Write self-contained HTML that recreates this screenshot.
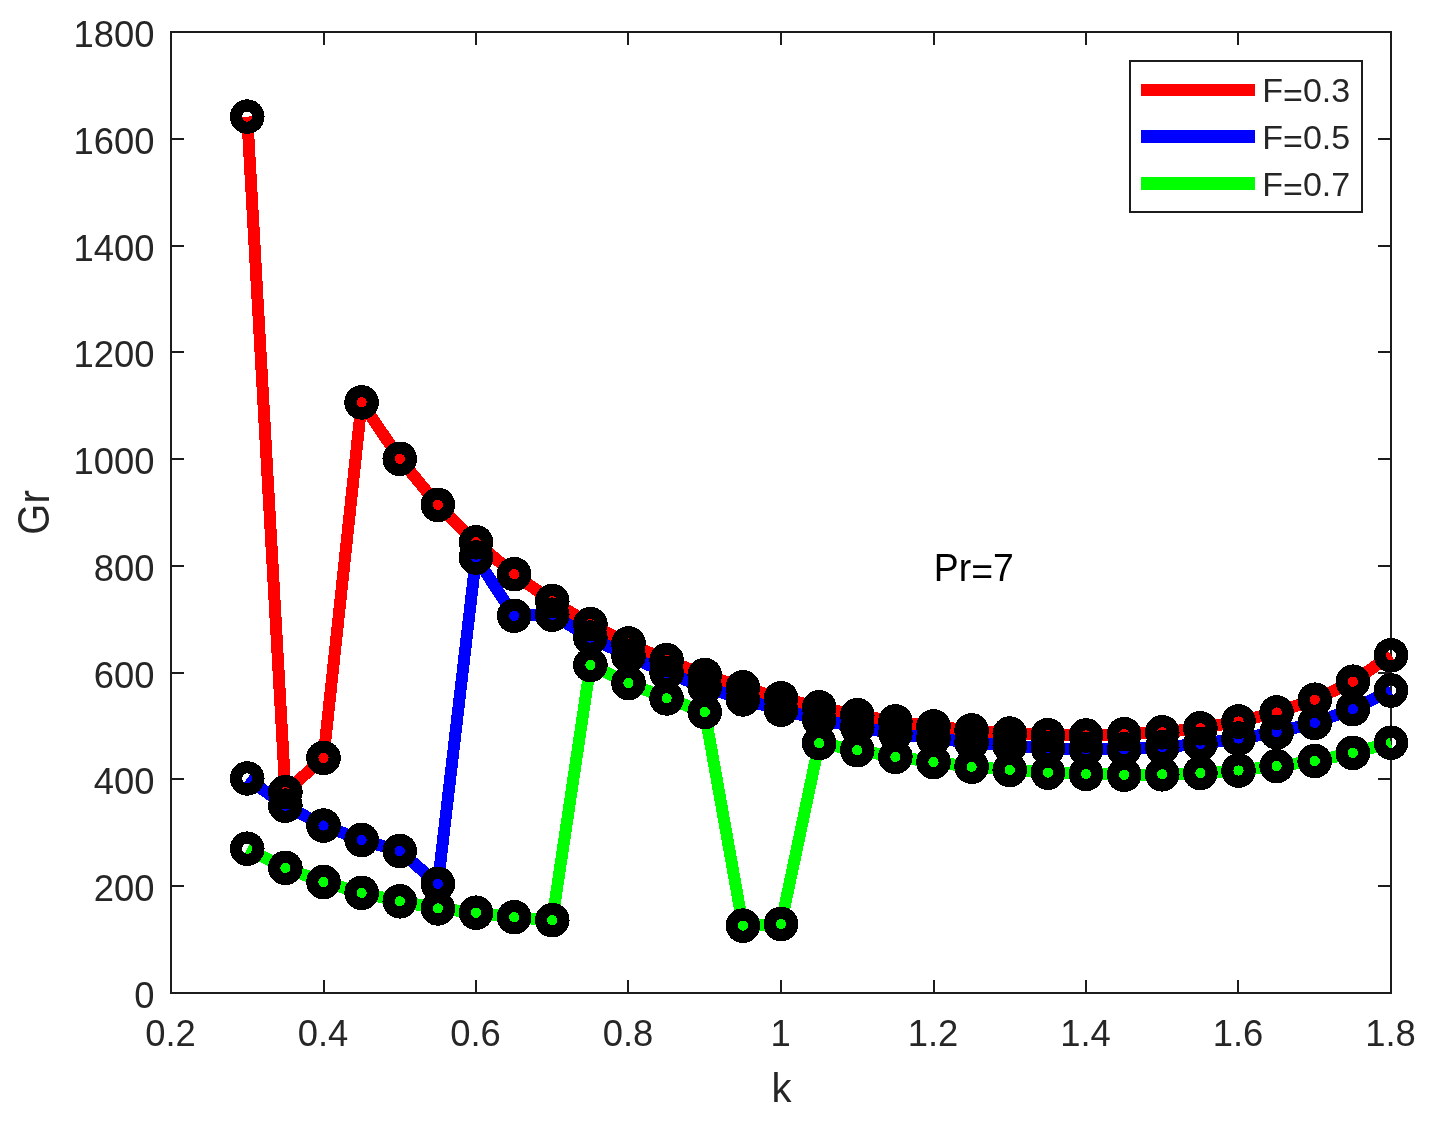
<!DOCTYPE html>
<html lang="en"><head><meta charset="utf-8"><title>Gr vs k</title>
<style>html,body{margin:0;padding:0;background:#fff}svg{display:block}</style></head>
<body>
<svg width="1430" height="1125" viewBox="0 0 1430 1125">
<rect x="0" y="0" width="1430" height="1125" fill="#fff"/>
<g stroke="#1c1c1c" stroke-width="2" fill="none" shape-rendering="crispEdges"><rect x="171.0" y="32.0" width="1220.0" height="961.0"/><line x1="324" y1="993.0" x2="324" y2="980.0"/><line x1="324" y1="32.0" x2="324" y2="45.0"/><line x1="476" y1="993.0" x2="476" y2="980.0"/><line x1="476" y1="32.0" x2="476" y2="45.0"/><line x1="628" y1="993.0" x2="628" y2="980.0"/><line x1="628" y1="32.0" x2="628" y2="45.0"/><line x1="781" y1="993.0" x2="781" y2="980.0"/><line x1="781" y1="32.0" x2="781" y2="45.0"/><line x1="934" y1="993.0" x2="934" y2="980.0"/><line x1="934" y1="32.0" x2="934" y2="45.0"/><line x1="1086" y1="993.0" x2="1086" y2="980.0"/><line x1="1086" y1="32.0" x2="1086" y2="45.0"/><line x1="1238" y1="993.0" x2="1238" y2="980.0"/><line x1="1238" y1="32.0" x2="1238" y2="45.0"/><line x1="171.0" y1="886" x2="184.0" y2="886"/><line x1="1391.0" y1="886" x2="1378.0" y2="886"/><line x1="171.0" y1="779" x2="184.0" y2="779"/><line x1="1391.0" y1="779" x2="1378.0" y2="779"/><line x1="171.0" y1="673" x2="184.0" y2="673"/><line x1="1391.0" y1="673" x2="1378.0" y2="673"/><line x1="171.0" y1="566" x2="184.0" y2="566"/><line x1="1391.0" y1="566" x2="1378.0" y2="566"/><line x1="171.0" y1="459" x2="184.0" y2="459"/><line x1="1391.0" y1="459" x2="1378.0" y2="459"/><line x1="171.0" y1="352" x2="184.0" y2="352"/><line x1="1391.0" y1="352" x2="1378.0" y2="352"/><line x1="171.0" y1="246" x2="184.0" y2="246"/><line x1="1391.0" y1="246" x2="1378.0" y2="246"/><line x1="171.0" y1="139" x2="184.0" y2="139"/><line x1="1391.0" y1="139" x2="1378.0" y2="139"/></g>
<g shape-rendering="crispEdges"><polyline points="247.25,116.6 285.38,792.2 323.50,757.9 361.62,402.4 399.75,458.8 437.88,504.9 476.00,542.3 514.12,574.2 552.25,601.1 590.38,624.2 628.50,643.5 666.62,660.2 704.75,675.0 742.88,687.3 781.00,698.2 819.13,707.3 857.25,715.2 895.38,721.4 933.50,726.4 971.62,730.4 1009.75,733.6 1047.88,735.2 1086.00,735.5 1124.12,734.2 1162.25,732.3 1200.38,728.3 1238.50,721.5 1276.62,712.5 1314.75,699.7 1352.88,681.7 1391.00,655.2" fill="none" stroke="#ff0000" stroke-width="12" stroke-linejoin="round" stroke-linecap="butt"/><polyline points="247.25,778.4 285.38,805.7 323.50,825.6 361.62,840.0 399.75,851.0 437.88,883.9 476.00,557.5 514.12,615.8 552.25,614.7 590.38,637.6 628.50,656.0 666.62,672.9 704.75,687.0 742.88,699.4 781.00,709.8 819.13,719.3 857.25,727.2 895.38,733.4 933.50,738.4 971.62,742.4 1009.75,745.6 1047.88,748.0 1086.00,749.3 1124.12,749.4 1162.25,747.2 1200.38,743.9 1238.50,738.6 1276.62,732.3 1314.75,722.9 1352.88,709.1 1391.00,690.5" fill="none" stroke="#0000ff" stroke-width="12" stroke-linejoin="round" stroke-linecap="butt"/><polyline points="247.25,848.7 285.38,867.8 323.50,882.0 361.62,892.8 399.75,901.3 437.88,908.4 476.00,912.7 514.12,917.2 552.25,920.2 590.38,665.0 628.50,683.0 666.62,698.4 704.75,712.0 742.88,925.6 781.00,924.0 819.13,743.1 857.25,750.2 895.38,756.8 933.50,762.0 971.62,766.7 1009.75,769.9 1047.88,772.6 1086.00,773.9 1124.12,774.8 1162.25,774.3 1200.38,773.0 1238.50,770.5 1276.62,766.1 1314.75,761.0 1352.88,752.9 1391.00,742.7" fill="none" stroke="#00ff00" stroke-width="12" stroke-linejoin="round" stroke-linecap="butt"/></g>
<g fill="none" stroke="#000" stroke-width="12.2" shape-rendering="crispEdges"><circle cx="247.25" cy="116.6" r="11.2"/><circle cx="285.38" cy="792.2" r="11.2"/><circle cx="323.50" cy="757.9" r="11.2"/><circle cx="361.62" cy="402.4" r="11.2"/><circle cx="399.75" cy="458.8" r="11.2"/><circle cx="437.88" cy="504.9" r="11.2"/><circle cx="476.00" cy="542.3" r="11.2"/><circle cx="514.12" cy="574.2" r="11.2"/><circle cx="552.25" cy="601.1" r="11.2"/><circle cx="590.38" cy="624.2" r="11.2"/><circle cx="628.50" cy="643.5" r="11.2"/><circle cx="666.62" cy="660.2" r="11.2"/><circle cx="704.75" cy="675.0" r="11.2"/><circle cx="742.88" cy="687.3" r="11.2"/><circle cx="781.00" cy="698.2" r="11.2"/><circle cx="819.13" cy="707.3" r="11.2"/><circle cx="857.25" cy="715.2" r="11.2"/><circle cx="895.38" cy="721.4" r="11.2"/><circle cx="933.50" cy="726.4" r="11.2"/><circle cx="971.62" cy="730.4" r="11.2"/><circle cx="1009.75" cy="733.6" r="11.2"/><circle cx="1047.88" cy="735.2" r="11.2"/><circle cx="1086.00" cy="735.5" r="11.2"/><circle cx="1124.12" cy="734.2" r="11.2"/><circle cx="1162.25" cy="732.3" r="11.2"/><circle cx="1200.38" cy="728.3" r="11.2"/><circle cx="1238.50" cy="721.5" r="11.2"/><circle cx="1276.62" cy="712.5" r="11.2"/><circle cx="1314.75" cy="699.7" r="11.2"/><circle cx="1352.88" cy="681.7" r="11.2"/><circle cx="1391.00" cy="655.2" r="11.2"/><circle cx="247.25" cy="778.4" r="11.2"/><circle cx="285.38" cy="805.7" r="11.2"/><circle cx="323.50" cy="825.6" r="11.2"/><circle cx="361.62" cy="840.0" r="11.2"/><circle cx="399.75" cy="851.0" r="11.2"/><circle cx="437.88" cy="883.9" r="11.2"/><circle cx="476.00" cy="557.5" r="11.2"/><circle cx="514.12" cy="615.8" r="11.2"/><circle cx="552.25" cy="614.7" r="11.2"/><circle cx="590.38" cy="637.6" r="11.2"/><circle cx="628.50" cy="656.0" r="11.2"/><circle cx="666.62" cy="672.9" r="11.2"/><circle cx="704.75" cy="687.0" r="11.2"/><circle cx="742.88" cy="699.4" r="11.2"/><circle cx="781.00" cy="709.8" r="11.2"/><circle cx="819.13" cy="719.3" r="11.2"/><circle cx="857.25" cy="727.2" r="11.2"/><circle cx="895.38" cy="733.4" r="11.2"/><circle cx="933.50" cy="738.4" r="11.2"/><circle cx="971.62" cy="742.4" r="11.2"/><circle cx="1009.75" cy="745.6" r="11.2"/><circle cx="1047.88" cy="748.0" r="11.2"/><circle cx="1086.00" cy="749.3" r="11.2"/><circle cx="1124.12" cy="749.4" r="11.2"/><circle cx="1162.25" cy="747.2" r="11.2"/><circle cx="1200.38" cy="743.9" r="11.2"/><circle cx="1238.50" cy="738.6" r="11.2"/><circle cx="1276.62" cy="732.3" r="11.2"/><circle cx="1314.75" cy="722.9" r="11.2"/><circle cx="1352.88" cy="709.1" r="11.2"/><circle cx="1391.00" cy="690.5" r="11.2"/><circle cx="247.25" cy="848.7" r="11.2"/><circle cx="285.38" cy="867.8" r="11.2"/><circle cx="323.50" cy="882.0" r="11.2"/><circle cx="361.62" cy="892.8" r="11.2"/><circle cx="399.75" cy="901.3" r="11.2"/><circle cx="437.88" cy="908.4" r="11.2"/><circle cx="476.00" cy="912.7" r="11.2"/><circle cx="514.12" cy="917.2" r="11.2"/><circle cx="552.25" cy="920.2" r="11.2"/><circle cx="590.38" cy="665.0" r="11.2"/><circle cx="628.50" cy="683.0" r="11.2"/><circle cx="666.62" cy="698.4" r="11.2"/><circle cx="704.75" cy="712.0" r="11.2"/><circle cx="742.88" cy="925.6" r="11.2"/><circle cx="781.00" cy="924.0" r="11.2"/><circle cx="819.13" cy="743.1" r="11.2"/><circle cx="857.25" cy="750.2" r="11.2"/><circle cx="895.38" cy="756.8" r="11.2"/><circle cx="933.50" cy="762.0" r="11.2"/><circle cx="971.62" cy="766.7" r="11.2"/><circle cx="1009.75" cy="769.9" r="11.2"/><circle cx="1047.88" cy="772.6" r="11.2"/><circle cx="1086.00" cy="773.9" r="11.2"/><circle cx="1124.12" cy="774.8" r="11.2"/><circle cx="1162.25" cy="774.3" r="11.2"/><circle cx="1200.38" cy="773.0" r="11.2"/><circle cx="1238.50" cy="770.5" r="11.2"/><circle cx="1276.62" cy="766.1" r="11.2"/><circle cx="1314.75" cy="761.0" r="11.2"/><circle cx="1352.88" cy="752.9" r="11.2"/><circle cx="1391.00" cy="742.7" r="11.2"/></g>
<rect x="1130" y="61" width="231.5" height="151" fill="#fff" stroke="#1c1c1c" stroke-width="2" shape-rendering="crispEdges"/>
<rect x="1141" y="84" width="114" height="12" fill="#ff0000" shape-rendering="crispEdges"/>
<rect x="1141" y="130" width="114" height="13" fill="#0000ff" shape-rendering="crispEdges"/>
<rect x="1141" y="177" width="114" height="13" fill="#00ff00" shape-rendering="crispEdges"/>
<g style="font-family:'Liberation Sans',Arial,Helvetica,sans-serif;font-size:34px" fill="#262626">
<text x="1262.3" y="102.3">F<tspan dy="4.2">=</tspan><tspan dy="-4.2">0.3</tspan></text>
<text x="1262.3" y="149.1">F<tspan dy="4.2">=</tspan><tspan dy="-4.2">0.5</tspan></text>
<text x="1262.3" y="196.3">F<tspan dy="4.2">=</tspan><tspan dy="-4.2">0.7</tspan></text>
</g>
<g style="font-family:'Liberation Sans',Arial,Helvetica,sans-serif;font-size:36.4px" fill="#262626">
<text x="170.5" y="1045.7" text-anchor="middle">0.2</text>
<text x="323.0" y="1045.7" text-anchor="middle">0.4</text>
<text x="475.5" y="1045.7" text-anchor="middle">0.6</text>
<text x="628.0" y="1045.7" text-anchor="middle">0.8</text>
<text x="780.5" y="1045.7" text-anchor="middle">1</text>
<text x="933.0" y="1045.7" text-anchor="middle">1.2</text>
<text x="1085.5" y="1045.7" text-anchor="middle">1.4</text>
<text x="1238.0" y="1045.7" text-anchor="middle">1.6</text>
<text x="1390.5" y="1045.7" text-anchor="middle">1.8</text>
<text x="154.5" y="1008.0" text-anchor="end">0</text>
<text x="154.5" y="901.2" text-anchor="end">200</text>
<text x="154.5" y="794.4" text-anchor="end">400</text>
<text x="154.5" y="687.7" text-anchor="end">600</text>
<text x="154.5" y="580.9" text-anchor="end">800</text>
<text x="154.5" y="474.1" text-anchor="end">1000</text>
<text x="154.5" y="367.3" text-anchor="end">1200</text>
<text x="154.5" y="260.6" text-anchor="end">1400</text>
<text x="154.5" y="153.8" text-anchor="end">1600</text>
<text x="154.5" y="47.0" text-anchor="end">1800</text>
</g>
<text x="781.5" y="1102" text-anchor="middle" style="font-family:'Liberation Sans',Arial,Helvetica,sans-serif;font-size:40px" fill="#262626">k</text>
<text transform="translate(49,512.5) rotate(-90) scale(1,1.1)" text-anchor="middle" style="font-family:'Liberation Sans',Arial,Helvetica,sans-serif;font-size:40px" fill="#262626">Gr</text>
<text transform="translate(933.8,581) scale(1,1.045)" style="font-family:'Liberation Sans',Arial,Helvetica,sans-serif;font-size:37.4px" fill="#000">Pr<tspan dy="4.2">=</tspan><tspan dy="-4.2">7</tspan></text>
</svg>
</body></html>
